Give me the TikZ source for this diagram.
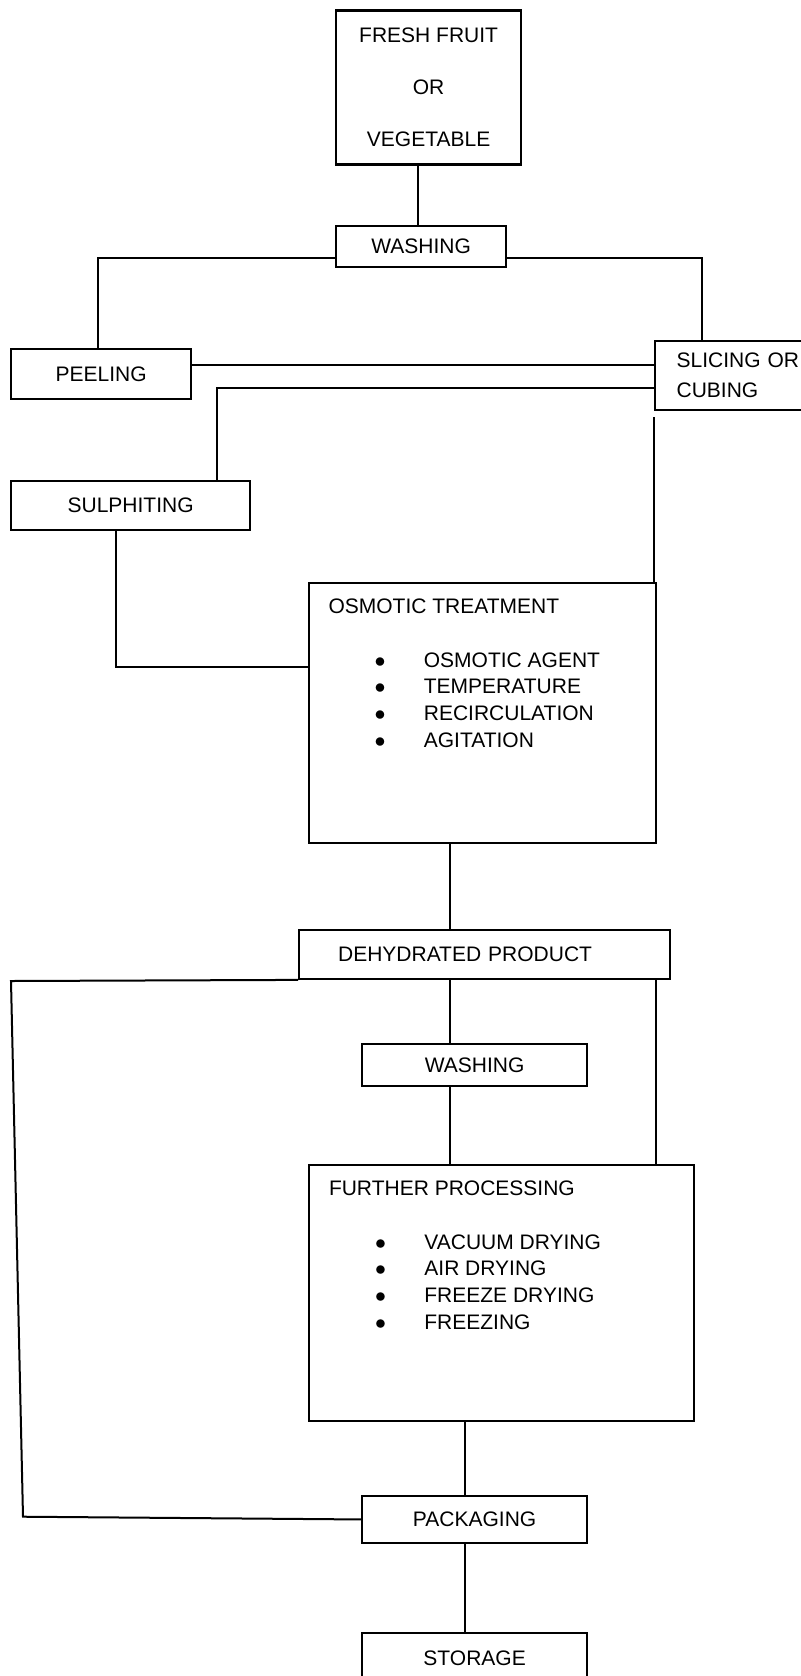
\documentclass[tikz,border=0pt]{standalone}
\usepackage{fontspec}
\setmainfont{Liberation Sans}

\tikzset{
  box/.style={draw, line width=1.1pt, anchor=north west, inner sep=0pt},
  link/.style={line width=1pt},
}
\newcommand{\itm}[1]{\makebox[47.7pt][l]{\hspace*{23pt}$\bullet$}#1}

\begin{document}
\begin{tikzpicture}[x=0.5pt, y=-0.5pt, font=\fontsize{10.5}{13.4}\selectfont]
    \useasboundingbox (0,0) rectangle (801,1676);
    \clip (0,0) rectangle (801,1676);

    % Preparation
    \node[box, align=center, minimum width=92.5pt, minimum height=77pt] (fresh) at (335,9.3) {FRESH FRUIT\\[12.6pt]OR\\[12.6pt]VEGETABLE};
    \node[box, minimum width=85pt, minimum height=20.5pt] (wash1) at (335,225) {WASHING};
    \node[box, minimum width=90pt, minimum height=25pt] (peel) at (10,348) {PEELING};
    \node[box, align=left, text width=72pt, inner xsep=10.75pt, minimum height=34.5pt] (slic) at (654,340) {SLICING OR\\[1.6pt]CUBING};
    \node[box, minimum width=119.5pt, minimum height=24.5pt] (sulph) at (10,480) {SULPHITING};

    % Osmotic treatment
    \node[box, minimum width=173.7pt, minimum height=130pt] (osm) at (307.6,582) {};
    \node[anchor=north west, align=left, inner sep=0pt] (osmtxt) at ([shift={(20.5,16.5)}]osm.north west)
        {OSMOTIC TREATMENT\\[13.4pt]\itm{OSMOTIC AGENT}\\\itm{TEMPERATURE}\\\itm{RECIRCULATION}\\\itm{AGITATION}};

    % After treatment
    \node[box, align=left, text width=146.5pt, inner xsep=19.5pt, minimum height=24.5pt] (dehyd) at (298,928.7) {DEHYDRATED PRODUCT};
    \node[box, minimum width=112.5pt, minimum height=21pt] (wash2) at (361,1043) {WASHING};
    \node[box, minimum width=192.7pt, minimum height=128pt] (further) at (307.6,1164) {};
    \node[anchor=north west, align=left, inner sep=0pt] (furtxt) at ([shift={(21,16.5)}]further.north west)
        {FURTHER PROCESSING\\[13.4pt]\itm{VACUUM DRYING}\\\itm{AIR DRYING}\\\itm{FREEZE DRYING}\\\itm{FREEZING}};
    \node[box, minimum width=112.5pt, minimum height=23.35pt] (pack) at (361,1495) {PACKAGING};
    \node[box, minimum width=112.5pt, minimum height=25pt] (stor) at (361,1632) {STORAGE};

    % Connectors
    \draw[link] ([xshift=-5.5pt]fresh.south) -- ([xshift=-5.5pt]fresh.south |- wash1.north);
    \draw[link] ([yshift=-5.75pt]wash1.west) -| ([xshift=-1.5pt]peel.north);
    \draw[link] ([yshift=-5.75pt]wash1.east) -| ([xshift=23.8pt]slic.north west);
    \draw[link] ([yshift=4.5pt]peel.east) -- ([yshift=4.5pt]peel.east -| slic.west);
    \draw[link] ([yshift=-6.25pt]slic.west) -| ([xshift=-17.2pt]sulph.north east);
    \draw[link] ([yshift=-3pt]slic.south west) -- (slic.south west |- osm.north);
    \draw[link] ([xshift=-7.25pt]sulph.south) |- ([yshift=23.15pt]osm.west);
    \draw[link] ([xshift=-16.4pt]osm.south) -- ([xshift=-16.4pt]osm.south |- dehyd.north);
    \draw[link] (dehyd.south west) -- (11,981) -- (23,1516.7) -- (pack.west);
    \draw[link] ([xshift=-17.45pt]dehyd.south) -- ([xshift=-17.45pt]dehyd.south |- wash2.north);
    \draw[link] ([xshift=-7.5pt]dehyd.south east) -- ([xshift=-7.5pt]dehyd.south east |- further.north);
    \draw[link] ([xshift=-12.45pt]wash2.south) -- ([xshift=-12.45pt]wash2.south |- further.north);
    \draw[link] ([xshift=-18.15pt]further.south) -- ([xshift=-18.15pt]further.south |- pack.north);
    \draw[link] ([xshift=-4.75pt]pack.south) -- ([xshift=-4.75pt]pack.south |- stor.north);
\end{tikzpicture}
\end{document}
